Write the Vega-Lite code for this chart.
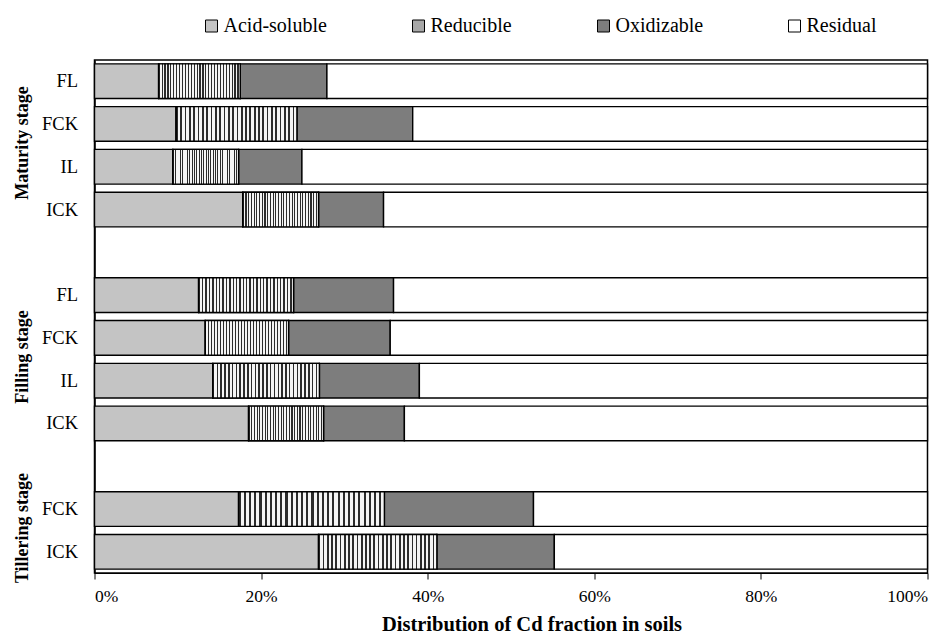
{
  "$schema": "https://vega.github.io/schema/vega-lite/v6.json",
  "width": 833,
  "height": 513,
  "autosize": {"type": "none"},
  "padding": {"left": 94.5, "top": 60, "right": 23, "bottom": 62},
  "config": {
    "font": "Liberation Serif",
    "view": {"stroke": "#000", "strokeWidth": 1.5},
    "axis": {"labelFont": "Liberation Serif", "titleFont": "Liberation Serif", "labelColor": "#000", "titleColor": "#000", "domainColor": "#000", "tickColor": "#000", "grid": false},
    "legend": {"labelFont": "Liberation Serif", "labelColor": "#000"}
  },
  "data": {"values": [
    {"stage": "Maturity stage", "treatment": "FL", "fraction": "Acid-soluble", "value": 7.7},
    {"stage": "Maturity stage", "treatment": "FL", "fraction": "Reducible", "value": 9.8},
    {"stage": "Maturity stage", "treatment": "FL", "fraction": "Oxidizable", "value": 10.4},
    {"stage": "Maturity stage", "treatment": "FL", "fraction": "Residual", "value": 72.1},
    {"stage": "Maturity stage", "treatment": "FCK", "fraction": "Acid-soluble", "value": 9.8},
    {"stage": "Maturity stage", "treatment": "FCK", "fraction": "Reducible", "value": 14.5},
    {"stage": "Maturity stage", "treatment": "FCK", "fraction": "Oxidizable", "value": 13.9},
    {"stage": "Maturity stage", "treatment": "FCK", "fraction": "Residual", "value": 61.8},
    {"stage": "Maturity stage", "treatment": "IL", "fraction": "Acid-soluble", "value": 9.4},
    {"stage": "Maturity stage", "treatment": "IL", "fraction": "Reducible", "value": 7.9},
    {"stage": "Maturity stage", "treatment": "IL", "fraction": "Oxidizable", "value": 7.6},
    {"stage": "Maturity stage", "treatment": "IL", "fraction": "Residual", "value": 75.1},
    {"stage": "Maturity stage", "treatment": "ICK", "fraction": "Acid-soluble", "value": 17.8},
    {"stage": "Maturity stage", "treatment": "ICK", "fraction": "Reducible", "value": 9.1},
    {"stage": "Maturity stage", "treatment": "ICK", "fraction": "Oxidizable", "value": 7.8},
    {"stage": "Maturity stage", "treatment": "ICK", "fraction": "Residual", "value": 65.3},
    {"stage": "Filling stage", "treatment": "FL", "fraction": "Acid-soluble", "value": 12.5},
    {"stage": "Filling stage", "treatment": "FL", "fraction": "Reducible", "value": 11.4},
    {"stage": "Filling stage", "treatment": "FL", "fraction": "Oxidizable", "value": 12.0},
    {"stage": "Filling stage", "treatment": "FL", "fraction": "Residual", "value": 64.1},
    {"stage": "Filling stage", "treatment": "FCK", "fraction": "Acid-soluble", "value": 13.3},
    {"stage": "Filling stage", "treatment": "FCK", "fraction": "Reducible", "value": 10.0},
    {"stage": "Filling stage", "treatment": "FCK", "fraction": "Oxidizable", "value": 12.2},
    {"stage": "Filling stage", "treatment": "FCK", "fraction": "Residual", "value": 64.5},
    {"stage": "Filling stage", "treatment": "IL", "fraction": "Acid-soluble", "value": 14.2},
    {"stage": "Filling stage", "treatment": "IL", "fraction": "Reducible", "value": 12.8},
    {"stage": "Filling stage", "treatment": "IL", "fraction": "Oxidizable", "value": 12.0},
    {"stage": "Filling stage", "treatment": "IL", "fraction": "Residual", "value": 61.0},
    {"stage": "Filling stage", "treatment": "ICK", "fraction": "Acid-soluble", "value": 18.5},
    {"stage": "Filling stage", "treatment": "ICK", "fraction": "Reducible", "value": 9.0},
    {"stage": "Filling stage", "treatment": "ICK", "fraction": "Oxidizable", "value": 9.7},
    {"stage": "Filling stage", "treatment": "ICK", "fraction": "Residual", "value": 62.8},
    {"stage": "Tillering stage", "treatment": "FCK", "fraction": "Acid-soluble", "value": 17.3},
    {"stage": "Tillering stage", "treatment": "FCK", "fraction": "Reducible", "value": 17.5},
    {"stage": "Tillering stage", "treatment": "FCK", "fraction": "Oxidizable", "value": 17.9},
    {"stage": "Tillering stage", "treatment": "FCK", "fraction": "Residual", "value": 47.3},
    {"stage": "Tillering stage", "treatment": "ICK", "fraction": "Acid-soluble", "value": 26.9},
    {"stage": "Tillering stage", "treatment": "ICK", "fraction": "Reducible", "value": 14.2},
    {"stage": "Tillering stage", "treatment": "ICK", "fraction": "Oxidizable", "value": 14.1},
    {"stage": "Tillering stage", "treatment": "ICK", "fraction": "Residual", "value": 44.8}
  ]},
  "transform": [
    {"calculate": "datum.stage + '|' + datum.treatment", "as": "row"},
    {"calculate": "indexof(['Acid-soluble','Reducible','Oxidizable','Residual'], datum.fraction)", "as": "k"}
  ],
  "layer": [
    {
      "mark": {"type": "bar", "stroke": "#000", "strokeWidth": 1.4},
      "encoding": {
        "y": {
          "field": "row", "type": "nominal",
          "scale": {
            "domain": ["Maturity stage|FL", "Maturity stage|FCK", "Maturity stage|IL", "Maturity stage|ICK", "gap1",
                       "Filling stage|FL", "Filling stage|FCK", "Filling stage|IL", "Filling stage|ICK", "gap2",
                       "Tillering stage|FCK", "Tillering stage|ICK"],
            "paddingInner": 0.19, "paddingOuter": 0.09
          },
          "axis": {
            "title": null, "ticks": false, "domainWidth": 1.5,
            "labelExpr": "length(split(datum.value, '|')) > 1 ? split(datum.value, '|')[1] : ''",
            "labelFont": "Liberation Serif", "labelFontSize": 18.5, "labelPadding": 17
          }
        },
        "x": {
          "field": "value", "type": "quantitative", "stack": "zero",
          "scale": {"domain": [0, 100], "nice": false},
          "axis": {
            "values": [0, 20, 40, 60, 80, 100], "labelExpr": "datum.value + '%'",
            "labelFont": "Liberation Serif", "labelFontSize": 17.5, "tickSize": 6, "labelPadding": 8,
            "title": "Distribution of Cd fraction in soils", "titleFont": "Liberation Serif",
            "titleFontSize": 20.5, "titleFontWeight": "bold",
            "titleX": 437, "titleY": 41, "titleAlign": "center", "titleBaseline": "top"
          }
        },
        "order": {"field": "k", "type": "quantitative"},
        "color": {
          "field": "fraction", "type": "nominal",
          "scale": {"domain": ["Acid-soluble", "Reducible", "Oxidizable", "Residual"],
                    "range": ["#c4c4c4", "#a8a8a8", "#7d7d7d", "#ffffff"]},
          "legend": {
            "title": null, "orient": "none", "direction": "horizontal",
            "legendX": 107, "legendY": -44,
            "symbolType": "square", "symbolSize": 144, "symbolStrokeColor": "#000", "symbolStrokeWidth": 1,
            "symbolOpacity": 1, "labelFont": "Liberation Serif", "labelFontSize": 20, "labelOffset": 2, "columnPadding": 81
          }
        }
      }
    },
    {
      "mark": {
        "type": "bar", "stroke": "#000", "strokeWidth": 1.4,
        "fill": {
          "gradient": "linear", "x1": 0, "y1": 0, "x2": 1, "y2": 0,
          "stops": [
            {"offset": 0, "color": "#2b2b2b"}, {"offset": 0.0143, "color": "#2b2b2b"}, {"offset": 0.0143, "color": "#f4f4f4"}, {"offset": 0.0357, "color": "#f4f4f4"},
            {"offset": 0.0357, "color": "#2b2b2b"}, {"offset": 0.0500, "color": "#2b2b2b"}, {"offset": 0.0500, "color": "#f4f4f4"}, {"offset": 0.0714, "color": "#f4f4f4"},
            {"offset": 0.0714, "color": "#2b2b2b"}, {"offset": 0.0857, "color": "#2b2b2b"}, {"offset": 0.0857, "color": "#f4f4f4"}, {"offset": 0.1071, "color": "#f4f4f4"},
            {"offset": 0.1071, "color": "#2b2b2b"}, {"offset": 0.1214, "color": "#2b2b2b"}, {"offset": 0.1214, "color": "#f4f4f4"}, {"offset": 0.1429, "color": "#f4f4f4"},
            {"offset": 0.1429, "color": "#2b2b2b"}, {"offset": 0.1571, "color": "#2b2b2b"}, {"offset": 0.1571, "color": "#f4f4f4"}, {"offset": 0.1786, "color": "#f4f4f4"},
            {"offset": 0.1786, "color": "#2b2b2b"}, {"offset": 0.1929, "color": "#2b2b2b"}, {"offset": 0.1929, "color": "#f4f4f4"}, {"offset": 0.2143, "color": "#f4f4f4"},
            {"offset": 0.2143, "color": "#2b2b2b"}, {"offset": 0.2286, "color": "#2b2b2b"}, {"offset": 0.2286, "color": "#f4f4f4"}, {"offset": 0.2500, "color": "#f4f4f4"},
            {"offset": 0.2500, "color": "#2b2b2b"}, {"offset": 0.2643, "color": "#2b2b2b"}, {"offset": 0.2643, "color": "#f4f4f4"}, {"offset": 0.2857, "color": "#f4f4f4"},
            {"offset": 0.2857, "color": "#2b2b2b"}, {"offset": 0.3000, "color": "#2b2b2b"}, {"offset": 0.3000, "color": "#f4f4f4"}, {"offset": 0.3214, "color": "#f4f4f4"},
            {"offset": 0.3214, "color": "#2b2b2b"}, {"offset": 0.3357, "color": "#2b2b2b"}, {"offset": 0.3357, "color": "#f4f4f4"}, {"offset": 0.3571, "color": "#f4f4f4"},
            {"offset": 0.3571, "color": "#2b2b2b"}, {"offset": 0.3714, "color": "#2b2b2b"}, {"offset": 0.3714, "color": "#f4f4f4"}, {"offset": 0.3929, "color": "#f4f4f4"},
            {"offset": 0.3929, "color": "#2b2b2b"}, {"offset": 0.4071, "color": "#2b2b2b"}, {"offset": 0.4071, "color": "#f4f4f4"}, {"offset": 0.4286, "color": "#f4f4f4"},
            {"offset": 0.4286, "color": "#2b2b2b"}, {"offset": 0.4429, "color": "#2b2b2b"}, {"offset": 0.4429, "color": "#f4f4f4"}, {"offset": 0.4643, "color": "#f4f4f4"},
            {"offset": 0.4643, "color": "#2b2b2b"}, {"offset": 0.4786, "color": "#2b2b2b"}, {"offset": 0.4786, "color": "#f4f4f4"}, {"offset": 0.5000, "color": "#f4f4f4"},
            {"offset": 0.5000, "color": "#2b2b2b"}, {"offset": 0.5143, "color": "#2b2b2b"}, {"offset": 0.5143, "color": "#f4f4f4"}, {"offset": 0.5357, "color": "#f4f4f4"},
            {"offset": 0.5357, "color": "#2b2b2b"}, {"offset": 0.5500, "color": "#2b2b2b"}, {"offset": 0.5500, "color": "#f4f4f4"}, {"offset": 0.5714, "color": "#f4f4f4"},
            {"offset": 0.5714, "color": "#2b2b2b"}, {"offset": 0.5857, "color": "#2b2b2b"}, {"offset": 0.5857, "color": "#f4f4f4"}, {"offset": 0.6071, "color": "#f4f4f4"},
            {"offset": 0.6071, "color": "#2b2b2b"}, {"offset": 0.6214, "color": "#2b2b2b"}, {"offset": 0.6214, "color": "#f4f4f4"}, {"offset": 0.6429, "color": "#f4f4f4"},
            {"offset": 0.6429, "color": "#2b2b2b"}, {"offset": 0.6571, "color": "#2b2b2b"}, {"offset": 0.6571, "color": "#f4f4f4"}, {"offset": 0.6786, "color": "#f4f4f4"},
            {"offset": 0.6786, "color": "#2b2b2b"}, {"offset": 0.6929, "color": "#2b2b2b"}, {"offset": 0.6929, "color": "#f4f4f4"}, {"offset": 0.7143, "color": "#f4f4f4"},
            {"offset": 0.7143, "color": "#2b2b2b"}, {"offset": 0.7286, "color": "#2b2b2b"}, {"offset": 0.7286, "color": "#f4f4f4"}, {"offset": 0.7500, "color": "#f4f4f4"},
            {"offset": 0.7500, "color": "#2b2b2b"}, {"offset": 0.7643, "color": "#2b2b2b"}, {"offset": 0.7643, "color": "#f4f4f4"}, {"offset": 0.7857, "color": "#f4f4f4"},
            {"offset": 0.7857, "color": "#2b2b2b"}, {"offset": 0.8000, "color": "#2b2b2b"}, {"offset": 0.8000, "color": "#f4f4f4"}, {"offset": 0.8214, "color": "#f4f4f4"},
            {"offset": 0.8214, "color": "#2b2b2b"}, {"offset": 0.8357, "color": "#2b2b2b"}, {"offset": 0.8357, "color": "#f4f4f4"}, {"offset": 0.8571, "color": "#f4f4f4"},
            {"offset": 0.8571, "color": "#2b2b2b"}, {"offset": 0.8714, "color": "#2b2b2b"}, {"offset": 0.8714, "color": "#f4f4f4"}, {"offset": 0.8929, "color": "#f4f4f4"},
            {"offset": 0.8929, "color": "#2b2b2b"}, {"offset": 0.9071, "color": "#2b2b2b"}, {"offset": 0.9071, "color": "#f4f4f4"}, {"offset": 0.9286, "color": "#f4f4f4"},
            {"offset": 0.9286, "color": "#2b2b2b"}, {"offset": 0.9429, "color": "#2b2b2b"}, {"offset": 0.9429, "color": "#f4f4f4"}, {"offset": 0.9643, "color": "#f4f4f4"},
            {"offset": 0.9643, "color": "#2b2b2b"}, {"offset": 0.9786, "color": "#2b2b2b"}, {"offset": 0.9786, "color": "#f4f4f4"}, {"offset": 1, "color": "#f4f4f4"}
          ]
        }
      },
      "encoding": {
        "y": {
          "field": "row", "type": "nominal",
          "axis": {
            "title": null, "ticks": false, "domain": false, "orient": "left",
            "values": ["Maturity stage|FCK", "Filling stage|FCK", "Tillering stage|FCK"],
            "labelExpr": "split(datum.value, '|')[0]",
            "labelOffset": 19, "labelAngle": 270, "labelAlign": "center", "labelBaseline": "bottom",
            "labelFont": "Liberation Serif", "labelFontSize": 18, "labelFontWeight": "bold", "offset": 60, "labelPadding": 3
          }
        },
        "x": {
          "field": "value", "type": "quantitative", "stack": "zero",
          "axis": {
            "values": [0, 20, 40, 60, 80, 100], "labelExpr": "datum.value + '%'",
            "labelFont": "Liberation Serif", "labelFontSize": 17.5, "tickSize": 6, "labelPadding": 8,
            "title": "Distribution of Cd fraction in soils", "titleFont": "Liberation Serif",
            "titleFontSize": 20.5, "titleFontWeight": "bold",
            "titleX": 437, "titleY": 41, "titleAlign": "center", "titleBaseline": "top"
          }
        },
        "order": {"field": "k", "type": "quantitative"},
        "fillOpacity": {"condition": {"test": "datum.fraction === 'Reducible'", "value": 1}, "value": 0},
        "strokeOpacity": {"condition": {"test": "datum.fraction === 'Reducible'", "value": 1}, "value": 0}
      }
    }
  ],
  "resolve": {"axis": {"y": "independent"}}
}
